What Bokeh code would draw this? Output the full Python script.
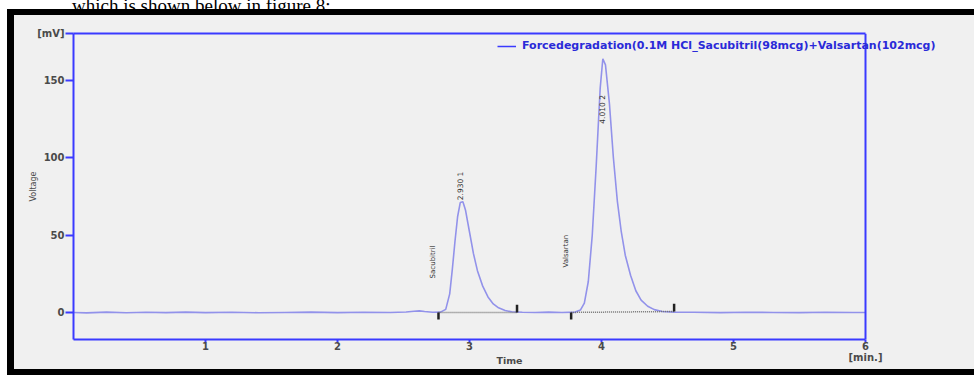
import math
from bokeh.plotting import figure
from bokeh.models import (Range1d, FixedTicker, Label, Legend, LegendItem, LinearAxis, Span, Div)
from bokeh.layouts import column
from bokeh.embed import file_html
from bokeh.resources import INLINE

# ---- data ----
time_min = [0.00, 0.10, 0.25, 0.40, 0.55, 0.70, 0.85, 1.00, 1.20, 1.40, 1.60, 1.80, 2.00,
            2.20, 2.40, 2.52, 2.58, 2.62, 2.66, 2.72, 2.78,
            2.82, 2.85, 2.87, 2.89, 2.91, 2.93, 2.95, 2.97, 3.00, 3.03, 3.06, 3.10, 3.14,
            3.18, 3.22, 3.27, 3.32, 3.40, 3.50, 3.60, 3.70, 3.80,
            3.84, 3.87, 3.90, 3.93, 3.96, 3.99, 4.01, 4.03, 4.06, 4.09, 4.12, 4.15, 4.18,
            4.22, 4.26, 4.30, 4.35, 4.40, 4.46, 4.55, 4.70, 4.90, 5.10, 5.30, 5.50, 5.70,
            5.90, 6.00]
voltage_mv = [0.0, -0.3, 0.2, -0.2, 0.1, -0.1, 0.2, -0.1, 0.1, -0.2, 0.0, 0.2, -0.1,
              0.1, 0.0, 0.3, 0.8, 1.0, 0.6, 0.1, 0.2,
              2.0, 12.0, 28.0, 46.0, 62.0, 71.0, 71.5, 66.0, 52.0, 38.0, 27.0, 17.0, 10.0,
              5.5, 3.0, 1.2, 0.4, 0.1, 0.0, 0.2, 0.0, 0.2,
              1.5, 6.0, 20.0, 50.0, 95.0, 145.0, 164.0, 160.0, 135.0, 100.0, 72.0, 52.0, 37.0,
              24.0, 14.0, 8.0, 4.0, 1.8, 0.6, 0.2, 0.1, -0.1, 0.1, 0.0, -0.1, 0.1,
              0.0, 0.0]

peak_rt = [2.930, 4.010]
peak_height = [71.5, 164.0]
peak_label = ["2.930  1", "4.010  2"]
compound = ["Sacubitril", "Valsartan"]
base_start = [2.765, 3.770]
base_end = [3.360, 4.550]
base_end_level = [0.0, 0.6]

x_min, x_max = 0.0, 6.0
x_ticks = [1, 2, 3, 4, 5, 6]
x_tick_text = {6: "6\n[min.]"}
y_ticks = [0, 50, 100, 150, 180]
y_tick_text = {180: "[mV]"}
series_name = "Forcedegradation(0.1M HCl_Sacubitril(98mcg)+Valsartan(102mcg)"
caption_text = "which is shown below in figure 8:"

AXIS = "#3a3aff"
TRACE = "#9292ea"
BG = "#f0f0f0"
TXT = "#4a4a4a"
FONT = "DejaVu Sans"

# frame reaches past x = 6 min so that the long legend text is not clipped;
# the visible plot box is drawn by bounded axes and a span at x = 6
p = figure(width=974, height=366, output_backend="svg", toolbar_location=None,
           x_range=Range1d(x_min, 6.606), y_range=Range1d(-17.5, 180.3),
           min_border_left=73, min_border_right=29, min_border_top=24, min_border_bottom=36,
           margin=0)
p.styles = {"background-color": BG,
            "box-shadow": "inset 7px 0 0 0 white, inset 14px 6px 0 0 black, inset 0 -6px 0 0 black"}
p.background_fill_color = BG
p.border_fill_color = None
p.outline_line_color = None
p.grid.visible = False

for ax in (p.xaxis[0], p.yaxis[0]):
    ax.axis_line_color = AXIS
    ax.axis_line_width = 2
    ax.major_tick_line_color = AXIS
    ax.major_tick_line_width = 2
    ax.major_tick_in = 0
    ax.minor_tick_line_color = None
    ax.major_label_text_font = FONT
    ax.major_label_text_font_style = "bold"
    ax.major_label_text_font_size = "10px"
    ax.major_label_text_color = TXT
    ax.axis_label_text_font = FONT
    ax.axis_label_text_color = TXT

p.xaxis.bounds = (x_min, x_max)
p.xaxis.ticker = FixedTicker(ticks=x_ticks)
p.xaxis.major_label_overrides = x_tick_text
p.xaxis.major_label_text_line_height = 1.0
p.xaxis.major_tick_out = 3
p.xaxis.major_label_standoff = -2
p.xaxis.axis_label = "Time"
p.xaxis.axis_label_text_font_style = "bold"
p.xaxis.axis_label_text_font_size = "9.5px"
p.xaxis.axis_label_standoff = -11

p.yaxis.ticker = FixedTicker(ticks=y_ticks)
p.yaxis.major_label_overrides = y_tick_text
p.yaxis.major_tick_out = 8
p.yaxis.major_label_standoff = 1
p.yaxis.axis_label = "Voltage"
p.yaxis.axis_label_text_font_style = "normal"
p.yaxis.axis_label_text_font_size = "8px"
p.yaxis.axis_label_standoff = -4

top_axis = LinearAxis(bounds=(x_min, x_max), ticker=FixedTicker(ticks=[]),
                      axis_line_color=AXIS, axis_line_width=2,
                      major_tick_line_color=None, minor_tick_line_color=None,
                      major_label_text_font_size="0px")
p.add_layout(top_axis, "above")
p.add_layout(Span(location=x_max, dimension="height", line_color=AXIS, line_width=2))

trace = p.line(time_min, voltage_mv, line_color=TRACE, line_width=1.6)
legend_key = p.line([float("nan")], [float("nan")], line_color=AXIS, line_width=1.5)

# integration baselines and their end marks
p.segment(x0=base_start, y0=[0.0] * len(base_start), x1=base_end, y1=base_end_level,
          line_color="#707070", line_width=1.5, line_dash="1 1")
p.segment(x0=base_start, y0=[0.0] * len(base_start), x1=base_start, y1=[-4.5] * len(base_start),
          line_color="#222222", line_width=2.5)
p.segment(x0=base_end, y0=base_end_level, x1=base_end, y1=[v + 5 for v in base_end_level],
          line_color="#222222", line_width=2.5)

# peak annotations (rotated)
peak_label_y = [peak_height[0] + 1.0, peak_height[1] - 42.0]
for i in range(len(peak_rt)):
    p.add_layout(Label(x=peak_rt[i], y=peak_label_y[i], text=peak_label[i], angle=math.pi / 2,
                       text_align="left", text_baseline="middle", text_font=FONT,
                       text_font_size="7.5px", text_color="#333333"))
name_y = [22.0, 29.0]
for i in range(len(compound)):
    p.add_layout(Label(x=base_start[i], y=name_y[i], x_offset=-5, text=compound[i],
                       angle=math.pi / 2, text_align="left", text_baseline="middle",
                       text_font=FONT, text_font_size="7px", text_color="#333333"))

legend = Legend(items=[LegendItem(label=series_name, renderers=[legend_key])],
                location=(424, 287), padding=0, margin=0, spacing=0,
                glyph_width=19, glyph_height=12, label_height=12, label_standoff=6,
                background_fill_alpha=0, border_line_color=None,
                label_text_font=FONT, label_text_font_style="bold",
                label_text_font_size="11px", label_text_color="#2a2ad8")
p.add_layout(legend)

caption = Div(text=('<div style="margin:-10px 0 0 72px;font-family:\'Liberation Serif\';'
                    'font-size:19px;line-height:19px;white-space:nowrap;color:#000">'
                    + caption_text + '</div>'),
              width=974, height=9, margin=0,
              styles={"overflow": "hidden", "background-color": "white"})

layout = column(caption, p, spacing=0, margin=0)
open("out.html", "w").write(file_html(layout, INLINE))
